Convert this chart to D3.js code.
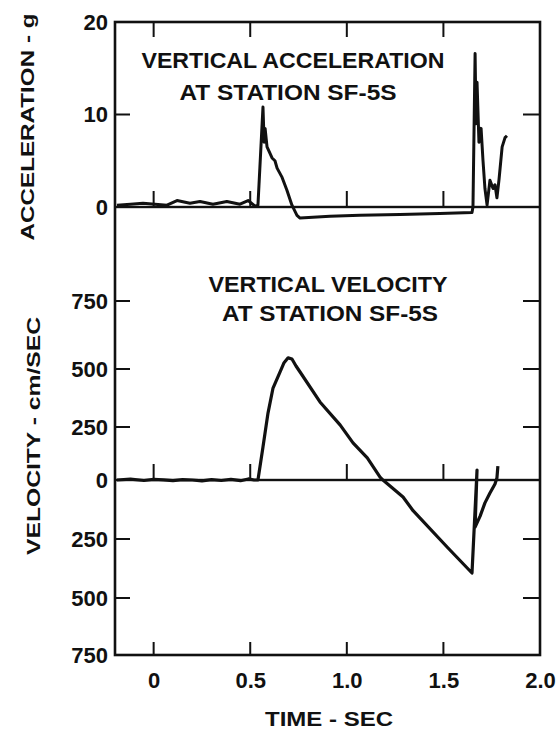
<!DOCTYPE html>
<html>
<head>
<meta charset="utf-8">
<script src="https://cdn.jsdelivr.net/npm/d3@7"></script>
<style>
  body { margin: 0; background: #fff; overflow: hidden; }
  text { font-family: "Liberation Sans", Arial, sans-serif; font-weight: bold; fill: #111; }
</style>
</head>
<body>
<div id="entry"></div>
<script>
// ticks
var timeTicks = [0, 0.5, 1.0, 1.5, 2.0];
var timeLabels = ['0', '0.5', '1.0', '1.5', '2.0'];
var accTicks = [0, 10, 20];
var velTicks = [-750, -500, -250, 0, 250, 500, 750];

// vertical acceleration (g) vs time (sec)
var accTime = [-0.19, -0.12, -0.055, 0.007, 0.069, 0.121, 0.188, 0.24, 0.307, 0.379, 0.447, 0.489, 0.525,
  0.540, 0.566, 0.572, 0.577, 0.587, 0.613, 0.628, 0.639, 0.665, 0.690, 0.716, 0.742, 0.758,
  0.913, 1.068, 1.275, 1.482, 1.648, 1.653, 1.664, 1.669, 1.674, 1.684, 1.695, 1.705, 1.715,
  1.726, 1.741, 1.757, 1.767, 1.777, 1.788, 1.804, 1.819, 1.829];
var accG = [0.2, 0.3, 0.4, 0.3, 0.2, 0.7, 0.4, 0.6, 0.3, 0.6, 0.3, 0.7, 0.1,
  0.2, 10.8, 7, 8.5, 6.5, 5.3, 5.0, 4.2, 3.2, 1.8, 0.2, -0.9, -1.2,
  -1.0, -0.9, -0.8, -0.7, -0.6, 0, 16.6, 9, 13.5, 7, 8.5, 5, 2,
  0.2, 2.9, 2.0, 2.4, 1.0, 3, 6.5, 7.5, 7.7];

// vertical velocity (cm/sec) vs time (sec)
var velTime = [-0.19, -0.12, -0.05, 0.0, 0.05, 0.10, 0.15, 0.20, 0.25, 0.30, 0.35, 0.40, 0.45, 0.49, 0.52,
  0.540, 0.566, 0.592, 0.618, 0.654, 0.674, 0.696, 0.716, 0.737, 0.758, 0.861, 0.965, 1.032,
  1.106, 1.172, 1.187, 1.291, 1.343, 1.519, 1.648, 1.674, 1.664, 1.690, 1.715, 1.741, 1.767,
  1.777, 1.782];
var velCms = [0, 4, -2, 3, 1, -3, 2, 0, -4, 2, -2, 3, -3, 5, 0,
  0, 156, 310, 418, 487, 522, 541, 537, 511, 487, 358, 259, 175,
  104, 14, 0, -72, -130, -284, -394, 47, -199, -153, -97, -55, -17,
  9, 66];

var width = 559, height = 734;
var plotL = 115, plotR = 540, plotT = 22, plotB = 655;

var svg = d3.select('#entry').append('svg')
  .attr('width', width)
  .attr('height', height)
  .style('display', 'block');

var x = d3.scaleLinear().domain([-0.2, 2.0]).range([plotL, plotR]);
var yAcc = d3.scaleLinear().domain([0, 20]).range([207, plotT]);
// the printed velocity axis is not quite evenly spaced
var yVel = d3.scaleLinear().domain(velTicks).range([plotB, 598, 539, 480, 427, 369, 301]);

// frame
svg.append('rect')
  .attr('x', plotL).attr('y', plotT)
  .attr('width', plotR - plotL).attr('height', plotB - plotT)
  .attr('fill', 'none').attr('stroke', '#111').attr('stroke-width', 2.6);

// zero lines
[yAcc(0), yVel(0)].forEach(function(y0) {
  svg.append('rect')
    .attr('x', plotL).attr('y', y0 - 1.2)
    .attr('width', plotR - plotL).attr('height', 2.4)
    .attr('fill', '#111');
});

// tick marks as thin filled bars
var marks = svg.append('g').attr('fill', '#111');
var innerTime = timeTicks.slice(0, 4);

function vTicks(yBase, len) {
  marks.selectAll(null).data(innerTime).enter().append('rect')
    .attr('x', function(d) { return x(d) - 1; })
    .attr('y', len > 0 ? yBase : yBase + len)
    .attr('width', 2).attr('height', Math.abs(len));
}
function hTicks(vals, scale, xBase, len) {
  marks.selectAll(null).data(vals).enter().append('rect')
    .attr('x', len > 0 ? xBase : xBase + len)
    .attr('y', function(d) { return scale(d) - 1; })
    .attr('width', Math.abs(len)).attr('height', 2);
}
vTicks(plotT, 15);          // top edge, pointing down
vTicks(yAcc(0), -16);       // acceleration zero line, pointing up
vTicks(yVel(0), -16);       // velocity zero line, pointing up
vTicks(plotB, -13);         // bottom edge, pointing up
hTicks([10], yAcc, plotL, 15);
hTicks([10], yAcc, plotR, -17);
hTicks([-500, -250, 250, 500, 750], yVel, plotL, 15);
hTicks([-500, -250, 250, 500, 750], yVel, plotR, -17);

// traces
var accLine = d3.line()
  .x(function(d, i) { return x(accTime[i]); })
  .y(function(d) { return yAcc(d); });

var velLine = d3.line()
  .x(function(d, i) { return x(velTime[i]); })
  .y(function(d) { return yVel(d); });

svg.append('path')
  .attr('d', accLine(accG))
  .attr('fill', 'none').attr('stroke', '#111')
  .attr('stroke-width', 3).attr('stroke-linejoin', 'round');

svg.append('path')
  .attr('d', velLine(velCms))
  .attr('fill', 'none').attr('stroke', '#111')
  .attr('stroke-width', 3.2).attr('stroke-linejoin', 'round');

// tick labels
function labelsOnly(g) {
  g.select('.domain').remove();
  g.selectAll('.tick line').remove();
  g.selectAll('text').style('font-size', '22px').attr('fill', '#111');
}

svg.append('g')
  .attr('transform', 'translate(' + plotL + ',0)')
  .call(d3.axisLeft(yAcc).tickValues(accTicks).tickSize(0).tickPadding(7))
  .call(labelsOnly);

svg.append('g')
  .attr('transform', 'translate(' + plotL + ',0)')
  .call(d3.axisLeft(yVel).tickValues(velTicks).tickSize(0).tickPadding(7)
    .tickFormat(function(d) { return Math.abs(d); }))
  .call(labelsOnly);

svg.append('g')
  .attr('transform', 'translate(0,' + plotB + ')')
  .call(d3.axisBottom(x).tickValues(timeTicks).tickSize(0).tickPadding(17)
    .tickFormat(function(d, i) { return timeLabels[i]; }))
  .call(labelsOnly);

// panel titles
function title(txt, cx, y, len) {
  svg.append('text')
    .attr('x', cx).attr('y', y)
    .attr('text-anchor', 'middle')
    .attr('textLength', len).attr('lengthAdjust', 'spacingAndGlyphs')
    .style('font-size', '22px')
    .text(txt);
}
title('VERTICAL ACCELERATION', 293, 68, 303);
title('AT STATION SF-5S', 288, 100, 217);
title('VERTICAL VELOCITY', 328, 292, 239);
title('AT STATION SF-5S', 330, 321, 216);

// axis titles
svg.append('text')
  .attr('transform', 'translate(329,726)')
  .attr('text-anchor', 'middle')
  .attr('textLength', 128).attr('lengthAdjust', 'spacingAndGlyphs')
  .style('font-size', '21px')
  .text('TIME - SEC');

svg.append('text')
  .attr('transform', 'translate(34,127) rotate(-90)')
  .attr('text-anchor', 'middle')
  .attr('textLength', 227).attr('lengthAdjust', 'spacingAndGlyphs')
  .style('font-size', '19px')
  .text('ACCELERATION - g');

svg.append('text')
  .attr('transform', 'translate(40,436) rotate(-90)')
  .attr('text-anchor', 'middle')
  .attr('textLength', 238).attr('lengthAdjust', 'spacingAndGlyphs')
  .style('font-size', '19px')
  .text('VELOCITY - cm/SEC');
</script>
</body>
</html>
